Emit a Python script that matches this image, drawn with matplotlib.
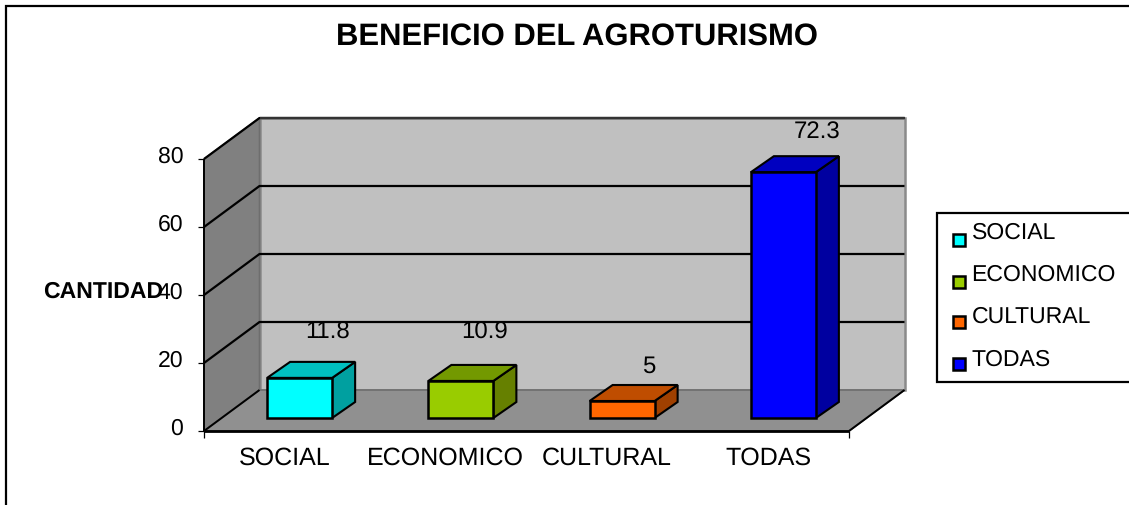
#!/usr/bin/env python3
"""Excel style 3D column chart: beneficio del agroturismo."""

import matplotlib
matplotlib.use('Agg')
import matplotlib.pyplot as plt
from matplotlib.patches import Polygon, Rectangle
from matplotlib.transforms import ScaledTranslation

plt.rcParams['font.family'] = ['Liberation Sans', 'DejaVu Sans']
plt.rcParams['text.hinting'] = 'no_hinting'
plt.rcParams['text.hinting_factor'] = 1

categories = ['SOCIAL', 'ECONOMICO', 'CULTURAL', 'TODAS']
values = [11.8, 10.9, 5, 72.3]
value_labels = ['11.8', '10.9', '5', '72.3']
y_ticks = [0, 20, 40, 60, 80]

front_colors = ['#00FFFF', '#99CC00', '#FF6600', '#0000FF']
top_colors = ['#00C0C0', '#739900', '#BF4D00', '#0000C0']
side_colors = ['#00A0A0', '#668000', '#A04000', '#0000A0']

W, H = 1129, 505
# front plane of the box, pixels
LEFT, RIGHT, BOTTOM, TOP = 204, 849, 431, 159
PX_X = (RIGHT - LEFT) / 4
PX_Y = (BOTTOM - TOP) / 80

# depth offsets in data units
WALL_DX, WALL_DY = 55.5 / PX_X, 41 / PX_Y
BAR_W = 65 / PX_X
BAR_SHIFT_X, BAR_BASE = 15 / PX_X, 13 / PX_Y
BAR_DX, BAR_DY = 23 / PX_X, 16 / PX_Y
# label placement relative to the bar top, pixels
LABEL_DX = [28, 24, 27, 34]
LABEL_LIFT = [47, 50, 36, 42]

fig = plt.figure(figsize=(W / 100, H / 100), dpi=100, facecolor='white')
ax = fig.add_axes([LEFT / W, 1 - BOTTOM / H, (RIGHT - LEFT) / W, (BOTTOM - TOP) / H])
ax.set_xlim(0, 4)
ax.set_ylim(0, 80)
ax.patch.set_visible(False)
for s in ax.spines.values():
    s.set_visible(False)


def poly(points, face, edge='black', lw=1.5, z=2):
    ax.add_patch(Polygon(points, closed=True, facecolor=face, edgecolor=edge,
                         linewidth=lw, clip_on=False, zorder=z, joinstyle='miter'))


def seg(xs, ys, color='black', lw=1.5, z=3):
    ax.plot(xs, ys, color=color, linewidth=lw, clip_on=False, zorder=z,
            solid_capstyle='butt')


# walls and floor
poly([(WALL_DX, WALL_DY), (4 + WALL_DX, WALL_DY), (4 + WALL_DX, 80 + WALL_DY), (WALL_DX, 80 + WALL_DY)],
     '#C0C0C0', edge='#8A8A8A', lw=1.8, z=1)
poly([(0, 0), (WALL_DX, WALL_DY), (WALL_DX, 80 + WALL_DY), (0, 80)], '#808080', edge='#6E6E6E', lw=1.2, z=1)
poly([(0, 0), (4, 0), (4 + WALL_DX, WALL_DY), (WALL_DX, WALL_DY)], '#909090', edge='#6E6E6E', lw=1.2, z=1)

# gridlines run along the side wall and the back wall
for t in y_ticks[1:]:
    seg([0, WALL_DX, 4 + WALL_DX], [t, t + WALL_DY, t + WALL_DY], lw=1.6, z=2)
seg([WALL_DX, 4 + WALL_DX], [80 + WALL_DY, 80 + WALL_DY], color='#333333', lw=1.6, z=2)

# outer box edges
seg([0, 0], [0, 80], lw=1.4)
seg([0, 4], [0, 0], lw=2.0)
seg([0, WALL_DX], [0, WALL_DY], lw=1.4)
seg([4, 4 + WALL_DX], [0, WALL_DY], lw=1.4)

# bars
for i, val in enumerate(values):
    x0 = i + (1 - BAR_W) / 2 + BAR_SHIFT_X
    x1 = x0 + BAR_W
    y0 = BAR_BASE
    y1 = BAR_BASE + val
    poly([(x1, y0), (x1 + BAR_DX, y0 + BAR_DY), (x1 + BAR_DX, y1 + BAR_DY), (x1, y1)],
         side_colors[i], lw=1.5, z=4)
    poly([(x0, y1), (x1, y1), (x1 + BAR_DX, y1 + BAR_DY), (x0 + BAR_DX, y1 + BAR_DY)],
         top_colors[i], lw=1.5, z=4)
    poly([(x0, y0), (x1, y0), (x1, y1), (x0, y1)], front_colors[i], lw=1.8, z=5)
    ax.text((x0 + x1) / 2 + LABEL_DX[i] / PX_X, y1 + LABEL_LIFT[i] / PX_Y - 2 / PX_Y, value_labels[i],
            ha='center', va='center', fontsize=17, color='black', zorder=6)

# axes ticks and labels
ax.set_yticks(y_ticks)
ax.tick_params(axis='y', length=4.5, width=0.9, pad=10.5, labelsize=16.5)
up = ScaledTranslation(0, 3 / 72, fig.dpi_scale_trans)
for lab in ax.get_yticklabels():
    lab.set_transform(lab.get_transform() + up)
ax.set_xticks([i + 0.5 for i in range(len(categories))])
ax.set_xticklabels(categories)
ax.set_xticks([0, 4], minor=True)
ax.tick_params(axis='x', which='major', length=0, pad=11.5, labelsize=17.7)
ax.tick_params(axis='x', which='minor', length=5, width=0.9)
ax.set_ylabel('CANTIDAD', rotation=0, fontsize=16.7, fontweight='bold', ha='center', va='center')
ax.yaxis.set_label_coords((103 - LEFT) / (RIGHT - LEFT), (BOTTOM - 292) / (BOTTOM - TOP))

# overlay in pixel coordinates for frame, title and legend
ov = fig.add_axes([0, 0, 1, 1], zorder=10)
ov.set_xlim(0, W)
ov.set_ylim(H, 0)
ov.axis('off')
ov.patch.set_visible(False)

ov.plot([5.5, 5.5, W], [H, 6, 6], color='black', linewidth=1.6, solid_joinstyle='miter')
ov.text(577, 37, 'BENEFICIO DEL AGROTURISMO', ha='center', va='center',
        fontsize=22, fontweight='bold')

ov.add_patch(Rectangle((937, 213), 200, 169, facecolor='white', edgecolor='black', linewidth=1.6))
legend_text_y = [233, 275, 317, 360]
legend_box_y = [239.5, 281.5, 321.5, 363.5]
for name, col, ty, by in zip(categories, front_colors, legend_text_y, legend_box_y):
    ov.add_patch(Rectangle((953, by - 6), 12, 12, facecolor=col, edgecolor='black', linewidth=1.8))
    ov.text(971.5, ty, name, ha='left', va='center', fontsize=16.3)

fig.savefig('out.png', dpi=100)
